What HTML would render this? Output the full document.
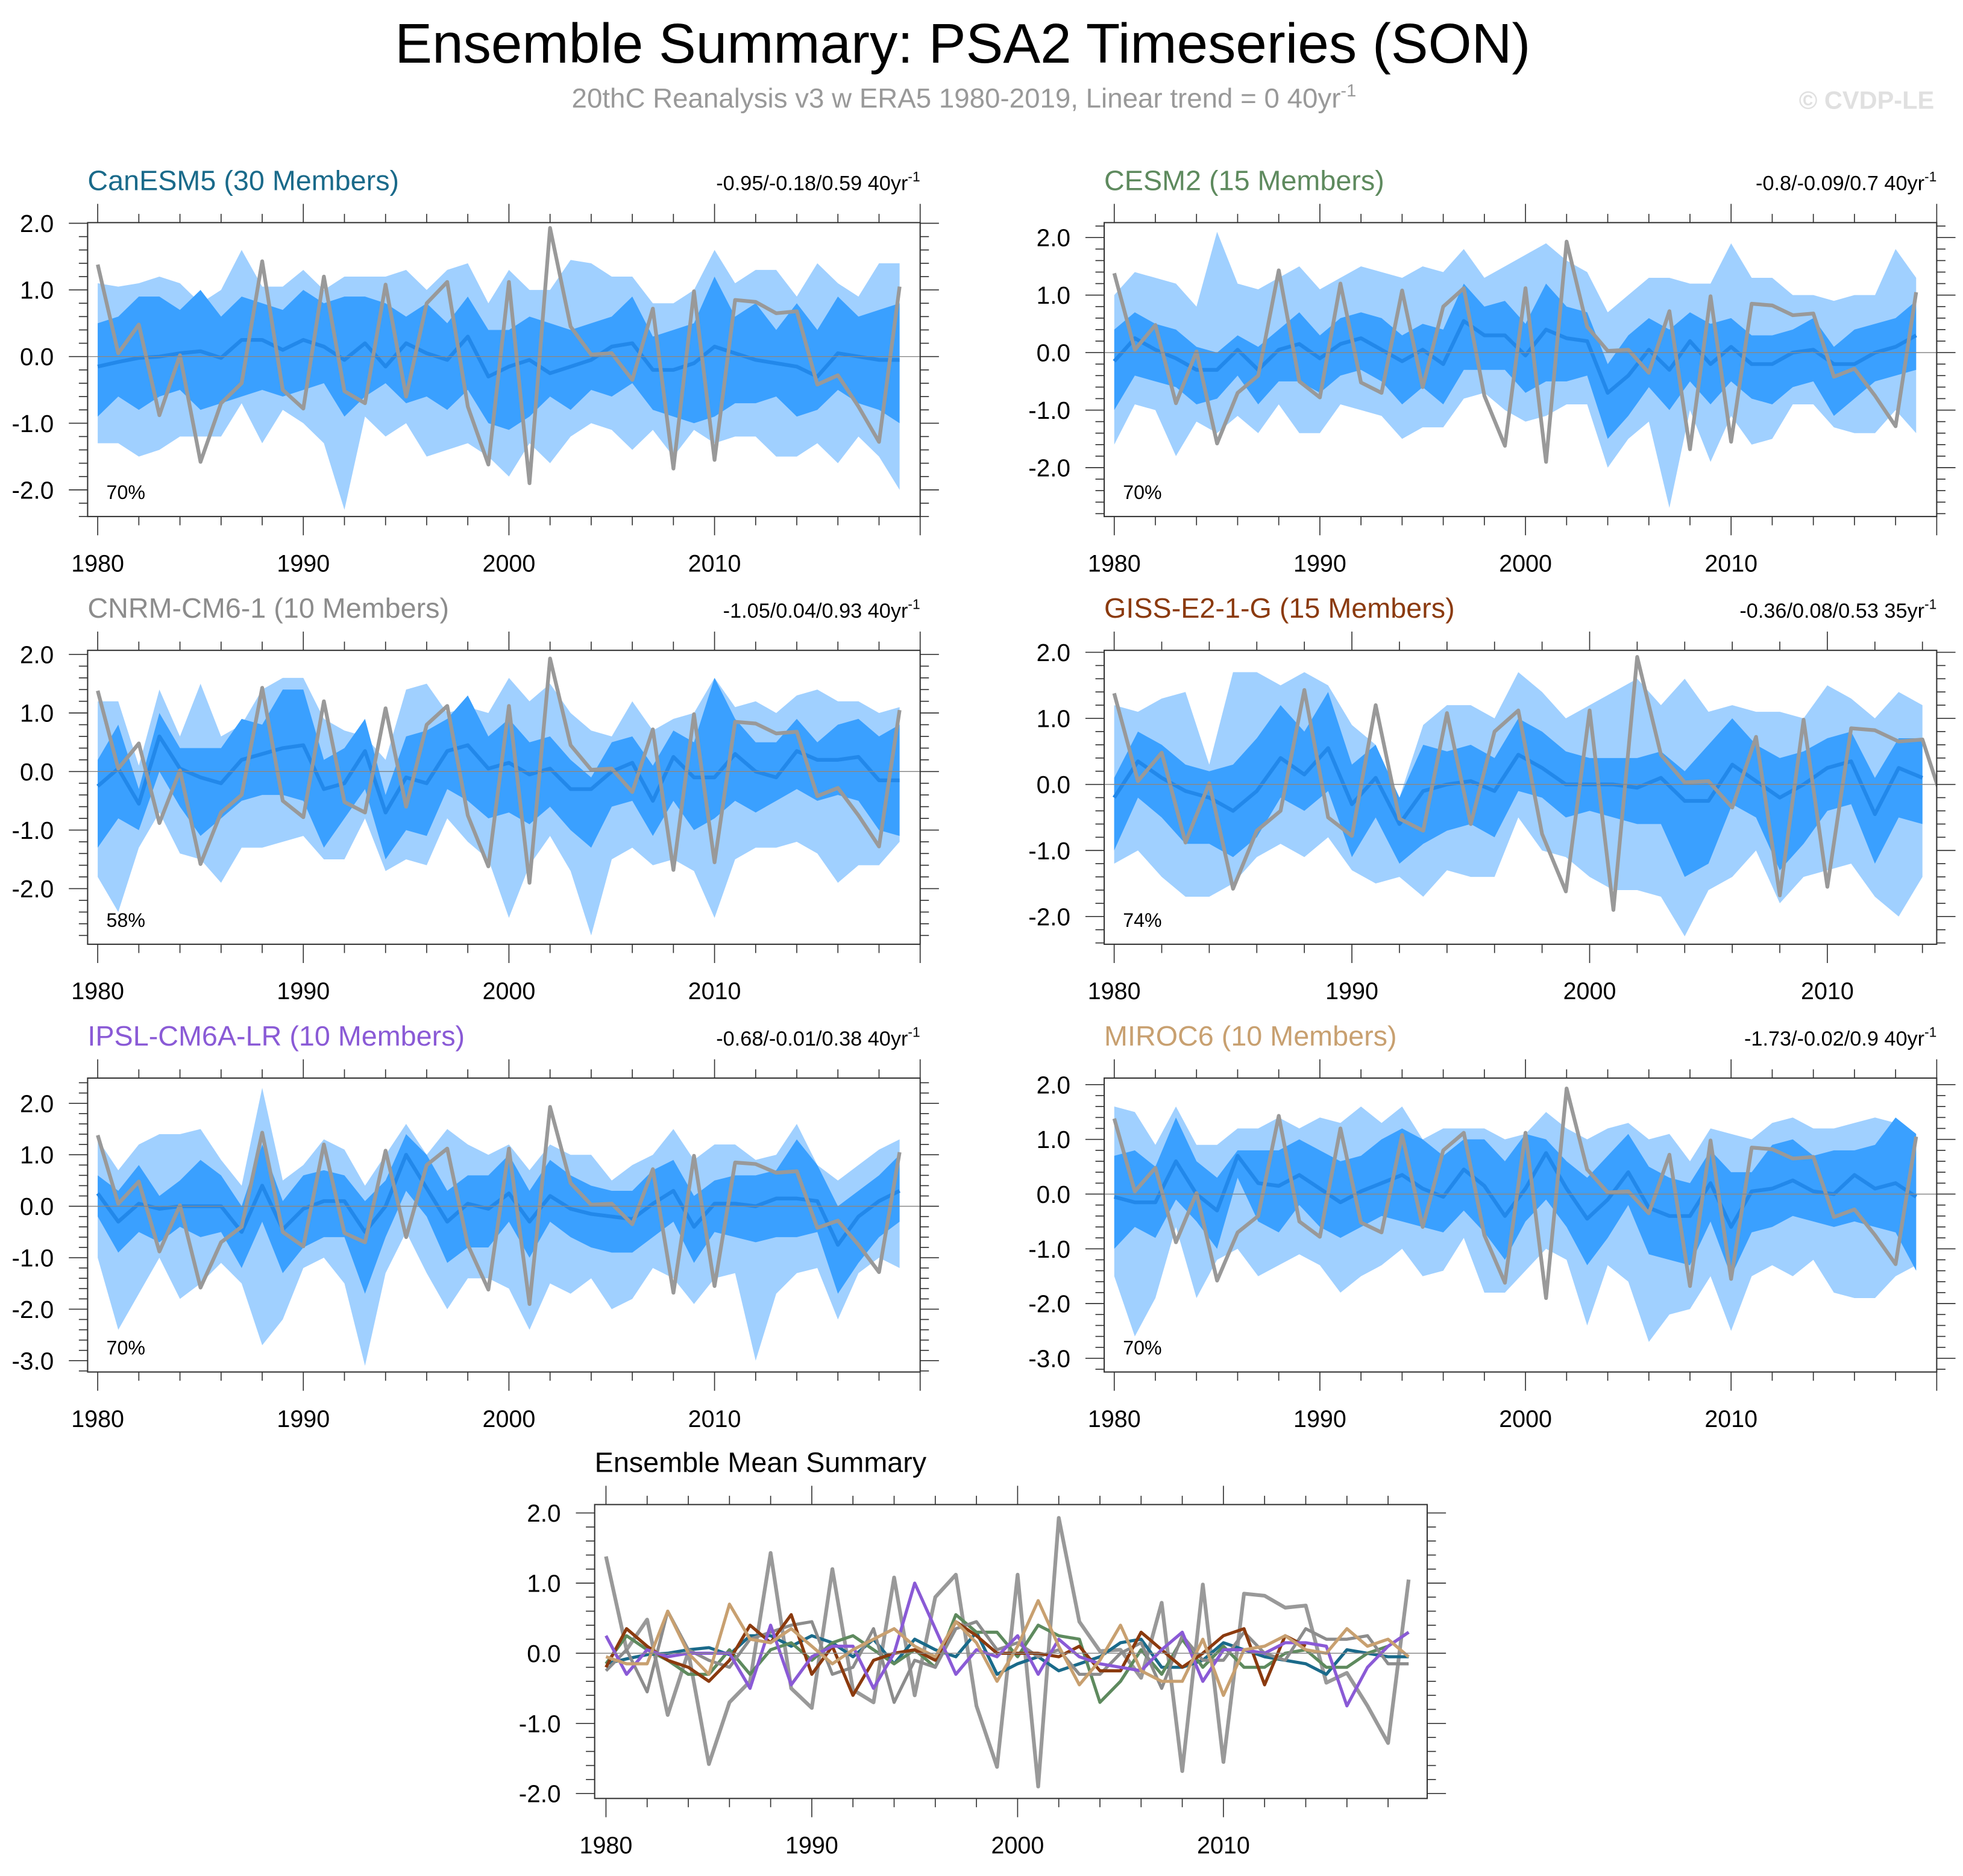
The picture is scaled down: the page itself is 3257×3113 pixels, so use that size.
<!DOCTYPE html>
<html><head><meta charset="utf-8">
<style>
html,body{margin:0;padding:0;background:#fff;}
svg{display:block;}
text{font-family:"Liberation Sans",Arial,sans-serif;}
</style></head>
<body>
<svg id="chart" width="3257" height="3113" viewBox="0 0 1568 1500" preserveAspectRatio="none" xmlns="http://www.w3.org/2000/svg">
<rect width="1568" height="1500" fill="#fff"/>
<text x="769" y="50" font-size="44.6" text-anchor="middle" fill="#000">Ensemble Summary: PSA2 Timeseries (SON)</text>
<text x="770" y="86" font-size="22" text-anchor="middle" fill="#999">20thC Reanalysis v3 w ERA5 1980-2019, Linear trend = 0 40yr<tspan dy="-9" font-size="14">-1</tspan></text>
<text x="1545" y="87" font-size="20" font-weight="bold" text-anchor="end" fill="#e0e0e0">© CVDP-LE</text>
<g id="plots"></g>
</svg>
<script>
const years = [1980,1981,1982,1983,1984,1985,1986,1987,1988,1989,1990,1991,1992,1993,1994,1995,1996,1997,1998,1999,2000,2001,2002,2003,2004,2005,2006,2007,2008,2009,2010,2011,2012,2013,2014,2015,2016,2017,2018,2019];
const obs = [1.38,0.05,0.48,-0.88,0.02,-1.58,-0.7,-0.4,1.43,-0.5,-0.78,1.2,-0.52,-0.7,1.08,-0.6,0.8,1.12,-0.75,-1.62,1.12,-1.9,1.93,0.45,0.03,0.05,-0.35,0.72,-1.68,0.98,-1.55,0.85,0.82,0.65,0.68,-0.42,-0.28,-0.75,-1.28,1.05];
const yTicks = [-3,-2,-1,0,1,2];
const xTicks = [1980,1990,2000,2010];

const canMean = [-0.15,-0.08,-0.02,0.0,0.05,0.08,-0.02,0.25,0.25,0.1,0.25,0.15,-0.05,0.2,-0.15,0.2,0.05,-0.05,0.3,-0.3,-0.15,-0.05,-0.25,-0.15,-0.05,0.15,0.2,-0.2,-0.2,-0.1,0.15,0.05,-0.05,-0.1,-0.15,-0.3,0.05,0.0,-0.05,-0.05];
const canDhi = [0.5,0.6,0.9,0.9,0.7,1.0,0.6,0.9,0.8,0.7,1.0,0.8,0.9,0.9,0.8,0.6,0.8,0.5,0.9,0.4,0.4,0.6,0.5,0.4,0.5,0.6,0.9,0.3,0.4,0.5,1.2,0.6,0.8,0.4,0.8,0.4,0.9,0.6,0.7,0.8];
const canDlo = [-0.9,-0.6,-0.8,-0.6,-0.5,-0.8,-0.7,-0.6,-0.5,-0.6,-0.5,-0.4,-0.9,-0.6,-0.4,-0.7,-0.6,-0.8,-0.5,-1.0,-1.1,-0.9,-0.6,-0.8,-0.5,-0.6,-0.4,-0.8,-0.9,-1.0,-0.9,-0.7,-0.7,-0.6,-0.9,-0.8,-0.5,-0.7,-0.8,-1.0];
const canLhi = [1.1,1.05,1.1,1.2,1.1,0.8,1.0,1.6,1.05,1.05,1.3,1.0,1.2,1.2,1.2,1.3,1.0,1.3,1.4,0.8,1.3,1.0,1.0,1.45,1.4,1.2,1.2,0.8,0.8,1.0,1.6,1.1,1.3,1.3,0.9,1.4,1.1,0.9,1.4,1.4];
const canLlo = [-1.3,-1.3,-1.5,-1.4,-1.2,-1.2,-1.2,-0.7,-1.3,-0.8,-1.0,-1.3,-2.3,-0.9,-1.2,-1.0,-1.5,-1.4,-1.3,-1.5,-1.8,-1.3,-1.6,-1.2,-1.0,-1.1,-1.4,-1.1,-1.5,-1.1,-1.3,-1.2,-1.2,-1.5,-1.5,-1.3,-1.6,-1.2,-1.5,-2.0];

const cesMean = [-0.15,0.25,0.05,-0.1,-0.3,-0.3,0.05,-0.3,0.05,0.15,-0.1,0.15,0.25,0.05,-0.15,0.05,-0.2,0.55,0.3,0.3,-0.05,0.4,0.25,0.2,-0.7,-0.4,0.05,-0.3,0.2,-0.2,0.1,-0.2,-0.2,0.0,0.05,-0.2,-0.2,0.0,0.1,0.3];
const cesDhi = [0.4,0.7,0.5,0.4,0.1,0.0,0.3,0.1,0.4,0.7,0.3,0.6,0.7,0.6,0.3,0.5,0.4,1.2,0.8,0.9,0.5,1.2,0.8,0.7,-0.2,0.3,0.6,0.4,0.7,0.5,0.6,0.3,0.3,0.4,0.6,0.1,0.4,0.5,0.6,0.9];
const cesDlo = [-1.0,-0.4,-0.5,-0.6,-0.9,-0.8,-0.4,-0.9,-0.5,-0.5,-0.7,-0.4,-0.3,-0.5,-0.9,-0.6,-0.9,-0.3,-0.3,-0.3,-0.7,-0.5,-0.5,-0.4,-1.5,-1.1,-0.6,-1.0,-0.5,-0.9,-0.5,-0.8,-0.9,-0.6,-0.5,-1.1,-0.8,-0.5,-0.4,-0.3];
const cesLhi = [1.0,1.4,1.3,1.2,0.8,2.1,1.2,1.1,1.3,1.5,1.1,1.3,1.5,1.4,1.3,1.5,1.4,1.8,1.3,1.5,1.7,1.9,1.6,1.4,0.7,1.0,1.3,1.3,1.2,1.2,1.9,1.3,1.3,1.0,1.0,0.9,1.0,1.0,1.8,1.3];
const cesLlo = [-1.6,-0.9,-1.0,-1.8,-1.2,-1.4,-1.1,-1.4,-0.9,-1.4,-1.4,-0.9,-1.0,-1.1,-1.5,-1.3,-1.3,-0.8,-0.7,-1.0,-1.2,-1.1,-0.9,-0.9,-2.0,-1.5,-1.2,-2.7,-1.0,-1.9,-1.1,-1.6,-1.5,-0.9,-0.9,-1.3,-1.4,-1.4,-1.0,-1.4];

const cnrMean = [-0.25,0.05,-0.55,0.6,0.05,-0.1,-0.2,0.2,0.3,0.4,0.45,-0.3,-0.2,0.35,-0.7,-0.1,-0.2,0.35,0.45,0.05,0.15,-0.05,0.05,-0.3,-0.3,0.0,0.15,-0.5,0.25,-0.1,-0.1,0.3,0.0,-0.1,0.35,0.2,0.2,0.25,-0.15,-0.15];
const cnrDhi = [0.2,0.8,-0.3,1.0,0.4,0.4,0.4,0.9,0.8,1.4,1.4,0.2,0.4,0.9,-0.4,0.6,0.7,0.9,1.3,0.6,0.9,0.5,0.6,0.2,-0.1,0.5,0.6,0.1,0.7,0.5,1.6,0.9,0.5,0.5,0.9,0.5,0.8,0.9,0.6,0.8];
const cnrDlo = [-1.3,-0.8,-1.0,0.0,-0.6,-1.1,-0.8,-0.5,-0.4,-0.4,-0.5,-1.3,-0.8,-0.3,-1.5,-1.0,-1.1,-0.3,-0.5,-0.8,-0.7,-0.9,-0.6,-1.0,-1.3,-0.6,-0.5,-1.1,-0.5,-1.0,-0.8,-0.5,-0.7,-0.5,-0.3,-0.5,-0.4,-0.5,-1.0,-1.1];
const cnrLhi = [1.2,1.2,0.1,1.4,0.6,1.5,0.6,0.8,1.4,1.6,1.6,0.9,0.7,0.6,0.2,1.4,1.5,1.0,1.1,1.0,1.6,1.2,1.5,1.0,0.7,0.6,1.2,0.7,0.9,1.0,1.6,1.1,1.2,1.0,1.3,1.4,1.2,1.2,1.0,1.1];
const cnrLlo = [-1.8,-2.4,-1.3,-0.7,-1.4,-1.5,-1.9,-1.3,-1.3,-1.2,-1.1,-1.5,-1.5,-0.8,-1.7,-1.5,-1.6,-0.8,-1.2,-1.5,-2.5,-1.6,-1.1,-1.7,-2.8,-1.5,-1.3,-1.6,-1.5,-1.7,-2.5,-1.5,-1.3,-1.3,-1.2,-1.4,-1.9,-1.6,-1.6,-1.2];

const gisMean = [-0.2,0.35,0.1,-0.1,-0.2,-0.4,-0.1,0.4,0.15,0.55,-0.3,0.1,-0.6,-0.1,0.0,0.05,-0.1,0.45,0.25,0.0,0.0,0.0,-0.05,0.1,-0.25,-0.25,0.3,0.05,-0.2,0.0,0.25,0.35,-0.45,0.25,0.1];
const gisDhi = [0.1,0.8,0.6,0.3,0.2,0.3,0.7,1.2,0.8,1.4,0.3,0.6,-0.2,0.6,0.5,0.6,0.4,1.0,0.8,0.5,0.4,0.4,0.4,0.5,0.2,0.6,1.0,0.6,0.4,0.5,0.7,0.8,0.1,0.7,0.7];
const gisDlo = [-1.0,-0.2,-0.5,-0.9,-0.9,-1.1,-0.8,-0.2,-0.4,-0.1,-1.1,-0.5,-1.2,-0.9,-0.7,-0.6,-0.8,-0.1,-0.2,-0.5,-0.4,-0.5,-0.6,-0.6,-1.4,-1.2,-0.3,-0.5,-1.3,-0.9,-0.4,-0.3,-1.2,-0.5,-0.6];
const gisLhi = [1.2,1.1,1.3,1.4,0.3,1.7,1.7,1.5,1.7,1.5,0.9,0.6,-0.2,0.9,1.2,1.2,1.0,1.7,1.4,1.0,1.2,1.4,1.6,1.2,1.6,1.1,1.2,1.1,1.1,1.0,1.5,1.3,1.0,1.4,1.2];
const gisLlo = [-1.2,-1.0,-1.4,-1.7,-1.7,-1.5,-1.1,-0.9,-1.1,-0.8,-1.3,-1.5,-1.4,-1.7,-1.3,-1.4,-1.4,-0.5,-1.0,-1.1,-1.4,-1.6,-1.6,-1.7,-2.3,-1.6,-1.4,-1.0,-1.8,-1.4,-1.3,-1.2,-1.7,-2.0,-1.4];

const ipsMean = [0.25,-0.3,0.05,-0.05,0.0,0.0,0.0,-0.5,0.4,-0.45,-0.05,0.1,0.1,-0.5,0.0,1.0,0.35,-0.3,0.05,-0.05,0.25,-0.3,0.2,-0.05,-0.15,-0.2,-0.25,0.05,0.3,-0.4,0.05,0.05,0.0,0.15,0.15,0.1,-0.75,-0.2,0.1,0.3];
const ipsDhi = [0.6,0.3,0.8,0.2,0.5,0.9,0.6,0.0,1.2,0.1,0.6,0.7,0.6,0.1,0.5,1.4,1.0,0.3,0.6,0.6,1.0,0.3,0.9,0.6,0.4,0.3,0.3,0.7,0.9,0.2,0.5,0.6,0.6,0.7,1.3,0.8,0.0,0.3,0.6,1.0];
const ipsDlo = [-0.2,-0.9,-0.5,-0.7,-0.4,-0.6,-0.5,-1.2,-0.3,-1.3,-0.8,-0.6,-0.6,-1.7,-0.6,0.3,-0.2,-1.1,-0.8,-0.8,-0.3,-1.0,-0.3,-0.6,-0.8,-0.9,-0.9,-0.6,-0.3,-1.1,-0.5,-0.6,-0.7,-0.6,-0.6,-0.5,-1.7,-1.1,-0.6,-0.3];
const ipsLhi = [1.3,0.7,1.2,1.4,1.4,1.5,0.9,0.4,2.3,0.5,0.8,1.3,1.1,0.4,1.0,1.6,1.0,1.5,1.2,1.0,1.2,0.7,1.2,1.0,1.0,0.5,0.8,1.0,1.5,0.9,1.2,1.2,0.9,1.0,1.6,0.8,0.5,0.8,1.1,1.3];
const ipsLlo = [-1.0,-2.4,-1.7,-1.0,-1.8,-1.5,-1.1,-1.5,-2.7,-2.2,-1.2,-1.0,-1.5,-3.1,-1.3,-0.5,-1.3,-2.0,-1.4,-1.4,-1.6,-2.4,-1.5,-1.7,-1.4,-2.0,-1.8,-1.2,-1.4,-1.9,-1.4,-1.3,-3.0,-1.7,-1.3,-1.2,-2.2,-1.3,-1.0,-1.2];

const mirMean = [-0.05,-0.15,-0.15,0.6,0.0,-0.3,0.7,0.2,0.15,0.35,0.1,-0.15,0.05,0.2,0.35,0.1,-0.05,0.45,0.15,-0.4,0.1,0.75,0.1,-0.45,-0.1,0.4,-0.25,-0.4,-0.4,0.2,-0.6,0.05,0.1,0.25,0.05,0.0,0.35,0.1,0.2,-0.05];
const mirDhi = [0.7,0.8,0.5,1.4,0.6,0.3,0.8,0.8,0.8,1.0,0.8,0.6,0.7,1.0,1.2,1.0,0.7,1.0,1.0,0.6,1.1,1.0,0.6,0.3,0.7,1.1,0.5,0.3,0.2,0.8,0.4,0.4,0.9,1.0,0.7,0.8,0.8,0.9,1.4,1.1];
const mirDlo = [-1.0,-0.6,-0.8,-0.1,-0.5,-1.0,0.3,-0.5,-0.7,-0.2,-0.6,-0.8,-0.6,-0.4,-0.5,-0.6,-0.7,-0.3,-0.7,-1.2,-0.5,-0.1,-0.6,-1.3,-0.8,-0.2,-1.1,-1.2,-1.3,-0.5,-1.5,-0.7,-0.6,-0.4,-0.5,-0.6,-0.5,-0.6,-0.7,-1.4];
const mirLhi = [1.6,1.5,0.9,1.6,0.9,0.9,1.2,1.2,1.4,1.2,1.4,1.3,1.6,1.3,1.6,1.0,1.2,1.2,1.2,1.0,1.1,1.5,1.2,1.0,1.2,1.3,1.0,1.1,0.6,1.2,1.1,1.0,1.3,1.4,1.2,1.2,1.3,1.4,1.3,1.0];
const mirLlo = [-1.5,-2.6,-1.9,-0.6,-1.9,-1.2,-1.0,-1.5,-1.3,-1.1,-1.3,-1.8,-1.5,-1.3,-1.0,-1.5,-1.4,-0.8,-1.8,-1.8,-1.4,-1.0,-1.2,-2.4,-1.3,-1.6,-2.7,-2.2,-2.1,-1.5,-2.5,-1.5,-1.3,-1.5,-1.2,-1.8,-1.9,-1.9,-1.5,-1.3];

const NS='http://www.w3.org/2000/svg';
const root=document.getElementById('plots');
function mk(tag,attrs,parent){const e=document.createElementNS(NS,tag);for(const k in attrs)e.setAttribute(k,attrs[k]);(parent||root).appendChild(e);return e;}

function axes(g,b){
  const sx=v=>b.x0+(v-b.xmin)/(b.xmax-b.xmin)*(b.x1-b.x0);
  const sy=v=>b.y1-(v-b.ymin)/(b.ymax-b.ymin)*(b.y1-b.y0);
  return {sx,sy};
}
function drawFrame(g,b,sx,sy,pre){
  mk('line',{x1:b.x0,x2:b.x1,y1:sy(0),y2:sy(0),stroke:'#888','stroke-width':0.7},g);
  mk('rect',{x:b.x0,y:b.y0,width:b.x1-b.x0,height:b.y1-b.y0,fill:'none',stroke:'#333','stroke-width':1},g);
  for(let i=Math.ceil(b.ymin*5);i<=Math.floor(b.ymax*5);i++){
    const v=i/5, y=sy(v), major=(i%5===0), L=major?15:7;
    mk('line',{x1:b.x0-L,x2:b.x0,y1:y,y2:y,stroke:'#333','stroke-width':0.8},g);
    mk('line',{x1:b.x1,x2:b.x1+L,y1:y,y2:y,stroke:'#333','stroke-width':0.8},g);
  }
  yTicks.forEach(v=>{ if(v<b.ymin||v>b.ymax) return;
    const t=mk('text',{x:b.x0-27,y:sy(v)+7,'font-size':19.5,'text-anchor':'end',fill:'#000'},g);
    
    
    t.textContent=v.toFixed(1);
  });
  for(let yr=1980;yr<=b.xmax;yr+=2){
    const x=sx(yr), major=(yr%10===0), L=major?15:7;
    mk('line',{x1:x,x2:x,y1:b.y1,y2:b.y1+L,stroke:'#333','stroke-width':0.8},g);
    mk('line',{x1:x,x2:x,y1:b.y0-L,y2:b.y0,stroke:'#333','stroke-width':0.8},g);
  }
  xTicks.forEach(v=>{ if(v>b.xmax) return;
    const t=mk('text',{x:sx(v),y:b.y1+44,'font-size':19,'text-anchor':'middle',fill:'#000'},g);
    
    
    t.textContent=v;
  });
}
function pathOf(xs,vals,sx,sy){return vals.map((v,i)=>(i?'L':'M')+sx(xs[i]).toFixed(2)+' '+sy(v).toFixed(2)).join(' ');}
function band(lo,hi,xs,sx,sy){
  let d=hi.map((v,i)=>(i?'L':'M')+sx(xs[i]).toFixed(2)+' '+sy(v).toFixed(2)).join(' ');
  for(let i=lo.length-1;i>=0;i--) d+=' L'+sx(xs[i]).toFixed(2)+' '+sy(lo[i]).toFixed(2);
  return d+' Z';
}

const panels=[
 {name:'canesm5',title:'CanESM5 (30 Members)',color:'#1a6a8a',trend:'-0.95/-0.18/0.59 40yr',pct:'70%',x0:70,x1:735,y0:178,y1:413,xmin:1979.51,xmax:2020,ymin:-2.40,ymax:2.01,mean:canMean,dhi:canDhi,dlo:canDlo,lhi:canLhi,llo:canLlo},
 {name:'cesm2',title:'CESM2 (15 Members)',color:'#5e8a5e',trend:'-0.8/-0.09/0.7 40yr',pct:'70%',x0:882,x1:1547,y0:178,y1:413,xmin:1979.51,xmax:2020,ymin:-2.85,ymax:2.26,mean:cesMean,dhi:cesDhi,dlo:cesDlo,lhi:cesLhi,llo:cesLlo},
 {name:'cnrm-cm6-1',title:'CNRM-CM6-1 (10 Members)',color:'#8c8c8c',trend:'-1.05/0.04/0.93 40yr',pct:'58%',x0:70,x1:735,y0:520,y1:755,xmin:1979.51,xmax:2020,ymin:-2.95,ymax:2.07,mean:cnrMean,dhi:cnrDhi,dlo:cnrDlo,lhi:cnrLhi,llo:cnrLlo},
 {name:'giss-e2-1-g',title:'GISS-E2-1-G (15 Members)',color:'#8b3a0e',trend:'-0.36/0.08/0.53 35yr',pct:'74%',x0:882,x1:1547,y0:520,y1:755,xmin:1979.58,xmax:2014.6,ymin:-2.42,ymax:2.03,mean:gisMean,dhi:gisDhi,dlo:gisDlo,lhi:gisLhi,llo:gisLlo},
 {name:'ipsl-cm6a-lr',title:'IPSL-CM6A-LR (10 Members)',color:'#8a5ad6',trend:'-0.68/-0.01/0.38 40yr',pct:'70%',x0:70,x1:735,y0:862,y1:1097,xmin:1979.51,xmax:2020,ymin:-3.22,ymax:2.49,mean:ipsMean,dhi:ipsDhi,dlo:ipsDlo,lhi:ipsLhi,llo:ipsLlo},
 {name:'miroc6',title:'MIROC6 (10 Members)',color:'#c8a070',trend:'-1.73/-0.02/0.9 40yr',pct:'70%',x0:882,x1:1547,y0:862,y1:1097,xmin:1979.51,xmax:2020,ymin:-3.25,ymax:2.12,mean:mirMean,dhi:mirDhi,dlo:mirDlo,lhi:mirLhi,llo:mirLlo}
];

panels.forEach(p=>{
  const g=mk('g',{});
  
  
  const {sx,sy}=axes(g,p);
  const xs=years.slice(0,p.mean.length);
  const clip=mk('clipPath',{id:'clip-'+p.name},g);
  mk('rect',{x:p.x0,y:p.y0,width:p.x1-p.x0,height:p.y1-p.y0},clip);
  const inner=mk('g',{'clip-path':'url(#clip-'+p.name+')'},g);
  const lb=mk('path',{d:band(p.llo,p.lhi,xs,sx,sy),fill:'#a0d0ff'},inner);
  
  
  const db=mk('path',{d:band(p.dlo,p.dhi,xs,sx,sy),fill:'#3aa0ff'},inner);
  
  
  const ml=mk('path',{d:pathOf(xs,p.mean,sx,sy),fill:'none',stroke:'#2288ea','stroke-width':3,'stroke-linejoin':'round'},inner);
  
  
  const ol=mk('path',{d:pathOf(years,obs,sx,sy),fill:'none',stroke:'#999','stroke-width':3,'stroke-linejoin':'round'},inner);
  
  
  drawFrame(g,p,sx,sy,p.name);
  const t=mk('text',{x:p.x0,y:p.y0-26,'font-size':22.5,fill:p.color},g);
  
  
  t.textContent=p.title;
  const tr=mk('text',{x:p.x1,y:p.y0-26,'font-size':16.5,'text-anchor':'end',fill:'#000'},g);
  
  
  tr.textContent=p.trend;
  const sup=mk('tspan',{dy:-7,'font-size':11},tr); sup.textContent='-1';
  const pc=mk('text',{x:p.x0+15,y:p.y1-14,'font-size':15.5,fill:'#000'},g);
  
  
  pc.textContent=p.pct;
});

const B={x0:475,x1:1140,y0:1203,y1:1438,xmin:1979.45,xmax:2019.9,ymin:-2.07,ymax:2.12};
const bg=mk('g',{});


const ax=axes(bg,B);
const bt=mk('text',{x:475,y:1177,'font-size':22.5,fill:'#000'},bg);


bt.textContent='Ensemble Mean Summary';
const obl=mk('path',{d:pathOf(years,obs,ax.sx,ax.sy),fill:'none',stroke:'#999','stroke-width':3,'stroke-linejoin':'round'},bg);


panels.forEach(p=>{
  const l=mk('path',{d:pathOf(years.slice(0,p.mean.length),p.mean,ax.sx,ax.sy),fill:'none',stroke:p.color,'stroke-width':2.5,'stroke-linejoin':'round'},bg);
  
  
});
drawFrame(bg,B,ax.sx,ax.sy,'summary');
</script>
</body></html>
